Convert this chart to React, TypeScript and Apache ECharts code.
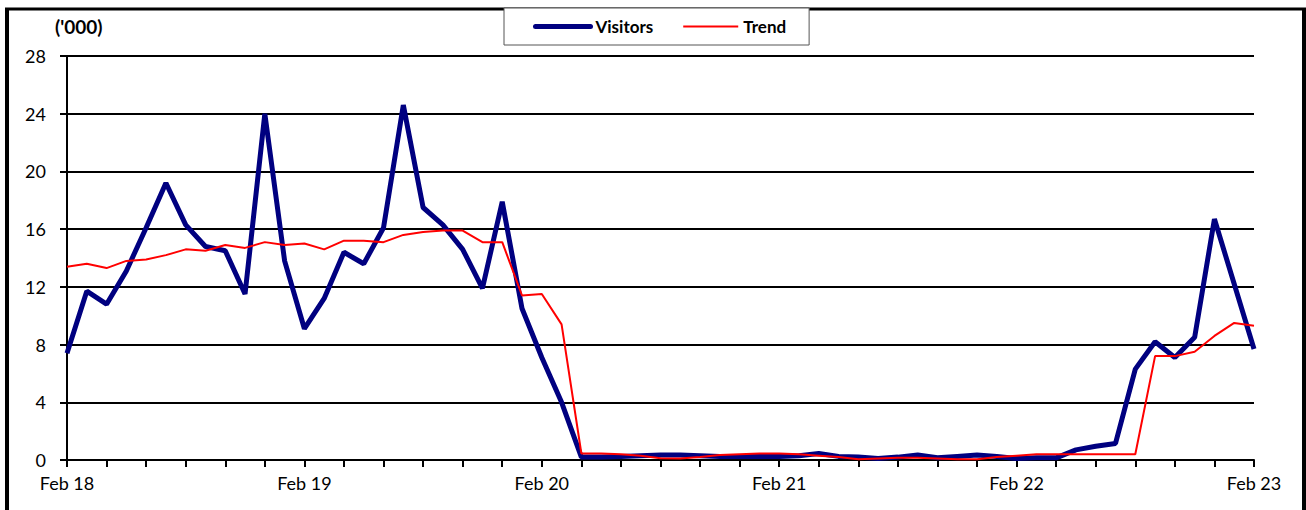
import React, { useEffect, useRef } from "react";
import * as echarts from "echarts";

const days = ["Feb 18", "Feb 19", "Feb 20", "Feb 21", "Feb 22", "Feb 23"];
const hours = ["00", "02", "04", "06", "08", "10", "12", "14", "16", "18", "20", "22"];

const visitors = [
  7.4, 11.7, 10.8, 13.1, 16.1, 19.2, 16.3, 14.8, 14.5, 11.5, 24.0, 13.8,
  9.1, 11.2, 14.4, 13.6, 16.1, 24.6, 17.5, 16.3, 14.6, 11.9, 17.9, 10.5,
  7.1, 4.0, 0.2, 0.2, 0.25, 0.3, 0.35, 0.35, 0.3, 0.25, 0.25, 0.25,
  0.25, 0.3, 0.45, 0.25, 0.2, 0.1, 0.2, 0.35, 0.15, 0.25, 0.35, 0.25,
  0.1, 0.15, 0.15, 0.7, 0.95, 1.15, 6.3, 8.2, 7.1, 8.5, 16.7, 12.2,
  7.7,
];

const trend = [
  13.4, 13.6, 13.3, 13.8, 13.9, 14.2, 14.6, 14.5, 14.9, 14.7, 15.1, 14.9,
  15.0, 14.6, 15.2, 15.2, 15.1, 15.6, 15.8, 15.9, 15.9, 15.1, 15.1, 11.4,
  11.5, 9.4, 0.45, 0.45, 0.4, 0.3, 0.12, 0.1, 0.2, 0.35, 0.4, 0.45,
  0.45, 0.4, 0.3, 0.2, 0.05, 0.1, 0.15, 0.15, 0.1, 0.05, 0.05, 0.2,
  0.3, 0.4, 0.4, 0.4, 0.4, 0.4, 0.4, 7.2, 7.2, 7.5, 8.6, 9.5,
  9.3,
];

const yTicks = [0, 4, 8, 12, 16, 20, 24, 28];

const categories: string[] = [];
days.forEach((d, i) => {
  if (i < days.length - 1) {
    hours.forEach((h) => categories.push(`${d} ${h}:00`));
  } else {
    categories.push(`${d} 00:00`);
  }
});

const FONT = "Lato";

export default function App() {
  const ref = useRef<HTMLDivElement>(null);
  useEffect(() => {
    if (!ref.current) return;
    const chart = echarts.init(ref.current, null, { renderer: "svg" });
    chart.setOption({
      animation: false,
      backgroundColor: "#ffffff",
      title: {
        text: "('000)",
        left: 55,
        top: 17,
        padding: 0,
        textStyle: { fontFamily: FONT, fontSize: 19, fontWeight: "bold", color: "#000" },
      },
      legend: {
        left: 504,
        top: 8,
        padding: [10, 23, 10, 29],
        itemGap: 29,
        itemWidth: 55,
        itemHeight: 16,
        borderColor: "#555",
        borderWidth: 1,
        backgroundColor: "#fff",
        itemStyle: { opacity: 0 },
        textStyle: { fontFamily: FONT, fontSize: 17, fontWeight: "bold", color: "#000" },
        data: [
          { name: "Visitors", itemStyle: { opacity: 0 }, lineStyle: { width: 5, cap: "round", color: "#000080" } },
          { name: "Trend", itemStyle: { opacity: 0 }, lineStyle: { width: 2, color: "#ff0000" } },
        ],
      },
      grid: { left: 67, right: 52, top: 56, bottom: 50, containLabel: false },
      xAxis: {
        type: "category",
        data: categories,
        boundaryGap: false,
        axisLine: { lineStyle: { color: "#000", width: 2 } },
        axisTick: { show: true, interval: 1, length: 7, lineStyle: { color: "#000", width: 2 } },
        axisLabel: {
          interval: 11,
          margin: 14,
          fontFamily: FONT,
          fontSize: 18,
          color: "#000",
          formatter: (v: string) => v.split(" ").slice(0, 2).join(" "),
        },
        splitLine: { show: false },
      },
      yAxis: {
        type: "value",
        min: yTicks[0],
        max: yTicks[yTicks.length - 1],
        interval: 4,
        axisLine: { show: true, lineStyle: { color: "#000", width: 2 } },
        axisTick: { show: true, length: 7, lineStyle: { color: "#000", width: 2 } },
        axisLabel: { margin: 21, fontFamily: FONT, fontSize: 18, color: "#000" },
        splitLine: { show: true, lineStyle: { color: "#000", width: 2 } },
      },
      graphic: [
        { type: "line", shape: { x1: 7, y1: 8, x2: 7, y2: 520 }, style: { stroke: "#000", lineWidth: 4 } },
        { type: "line", shape: { x1: 1304, y1: 8, x2: 1304, y2: 520 }, style: { stroke: "#000", lineWidth: 4 } },
        { type: "line", shape: { x1: 5, y1: 9, x2: 1306, y2: 9 }, style: { stroke: "#000", lineWidth: 3 } },
      ],
      series: [
        {
          name: "Visitors",
          type: "line",
          data: visitors,
          symbol: "none",
          lineStyle: { color: "#000080", width: 5 },
          itemStyle: { color: "#000080" },
        },
        {
          name: "Trend",
          type: "line",
          data: trend,
          symbol: "none",
          lineStyle: { color: "#ff0000", width: 2 },
          itemStyle: { color: "#ff0000" },
        },
      ],
    });
    return () => chart.dispose();
  }, []);
  return (
    <div
      ref={ref}
      style={{ position: "fixed", left: 0, top: 0, width: 1306, height: 510 }}
    />
  );
}
